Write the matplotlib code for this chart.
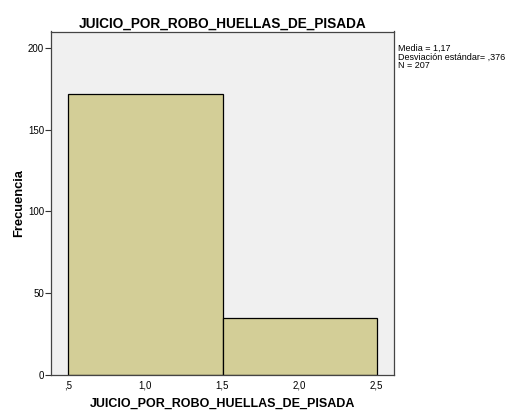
import matplotlib
matplotlib.use("Agg")
import matplotlib.pyplot as plt

plt.rcParams['font.family'] = ['Liberation Sans', 'DejaVu Sans']

# histogram bins and counts
bin_edges = [0.5, 1.5, 2.5]
counts = [172, 35]
x_ticks = [0.5, 1.0, 1.5, 2.0, 2.5]
x_tick_labels = [",5", "1,0", "1,5", "2,0", "2,5"]
y_ticks = [0, 50, 100, 150, 200]
stats_lines = ["Media = 1,17", "Desviación estándar= ,376", "N = 207"]
var_name = "JUICIO_POR_ROBO_HUELLAS_DE_PISADA"

fig = plt.figure(figsize=(5.09, 4.13), dpi=100)
ax = fig.add_axes([51 / 509, 38 / 413, 343 / 509, 343.5 / 413])
ax.set_facecolor("#f0f0f0")

widths = [bin_edges[i + 1] - bin_edges[i] for i in range(len(counts))]
ax.bar(bin_edges[:-1], counts, width=widths, align="edge",
       color="#d3ce97", edgecolor="black", linewidth=0.9)

ax.set_xlim(0.388, 2.612)
ax.set_ylim(0, 210)
ax.set_xticks(x_ticks)
ax.set_xticklabels(x_tick_labels, fontsize=7)
ax.set_yticks(y_ticks)
ax.set_yticklabels([str(v) for v in y_ticks], fontsize=7)
ax.tick_params(axis="y", length=4, width=0.8, color="#333333", pad=1)
ax.tick_params(axis="x", length=0, pad=4)
for s in ax.spines.values():
    s.set_color("#444444")
    s.set_linewidth(0.9)

ax.set_title(var_name, fontsize=9.8, fontweight="bold", pad=3)
ax.set_xlabel(var_name, fontsize=9, fontweight="bold", labelpad=5)
ax.set_ylabel("Frecuencia", fontsize=9.3, fontweight="bold", labelpad=2)

fig.text(398 / 509, 1 - 44 / 413, "\n".join(stats_lines), fontsize=6.5,
         va="top", ha="left", linespacing=0.95)

fig.savefig("out.png", dpi=100, facecolor="white")
